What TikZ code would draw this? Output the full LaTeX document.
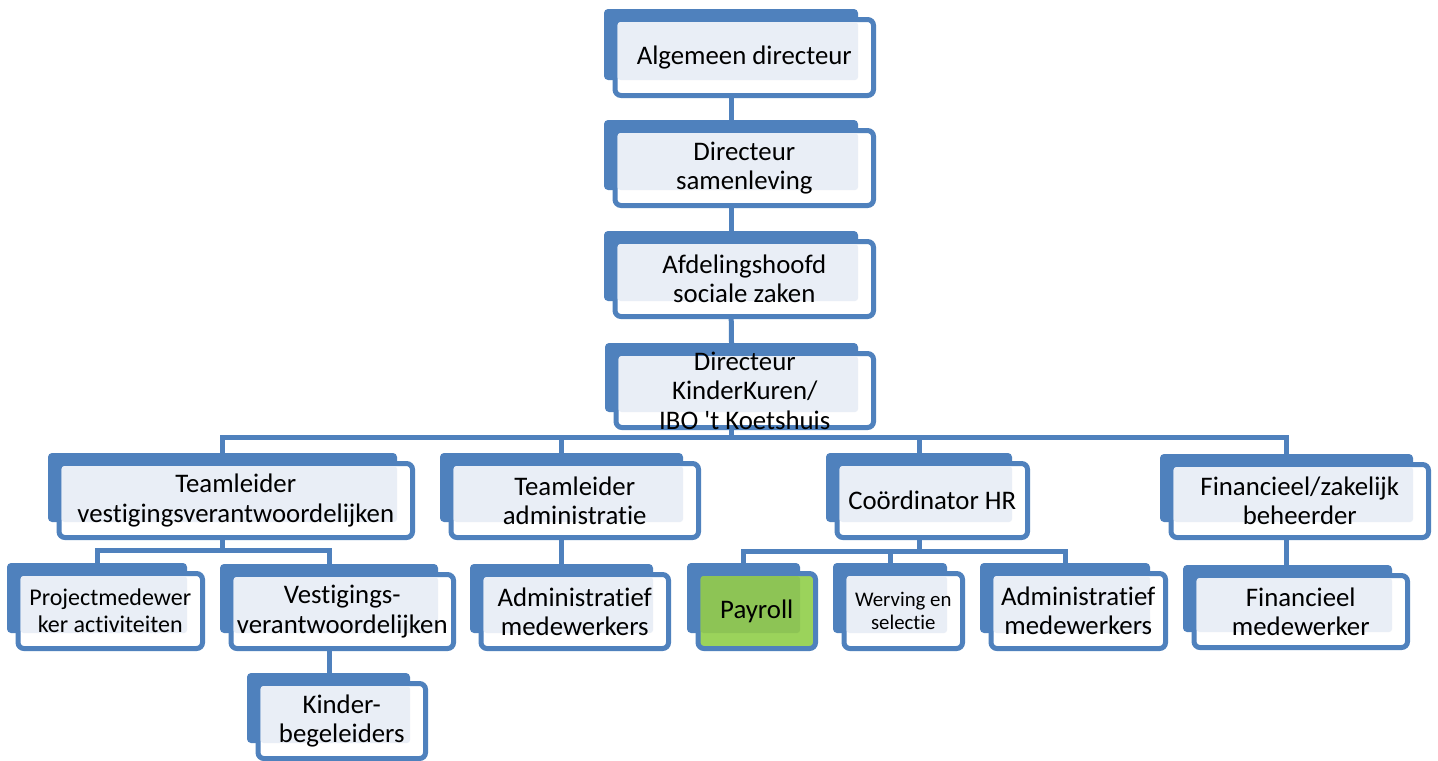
\documentclass[tikz,border=0pt]{standalone}
\usepackage{fontspec}
\setmainfont{Carlito}[Ligatures={NoCommon}]
\usetikzlibrary{backgrounds}

\definecolor{boxblue}{RGB}{79,129,189}
\definecolor{boxlight}{RGB}{233,238,246}
\definecolor{payfront}{RGB}{155,211,91}
\definecolor{paylight}{RGB}{141,196,85}

\tikzset{
  front colour/.store in=\frontcol, front colour=white,
  light colour/.store in=\lightcol, light colour=boxlight,
  backbox/.style={fill=boxblue, rounded corners=2pt, inner sep=0pt, outer sep=0pt, anchor=north west},
  frontbox/.style={draw=boxblue, fill=\frontcol, line width=2.5pt, rounded corners=3pt, inner sep=0pt, outer sep=0pt, anchor=north west},
  boxtext/.style={align=center, inner sep=0pt, text=black},
  link/.style={draw=boxblue, line width=2.5pt, line cap=rect}
}

% box: [options]{name}{x0}{y0}{x1}{y1}{text}, back rectangle in pixels
\newcommand{\orgbox}[7][]{%
  \begin{scope}[#1]
    \node[backbox, minimum width={(#5-#3)*0.5pt}, minimum height={(#6-#4)*0.5pt}] (#2) at (#3,#4) {};
    \node[frontbox, minimum width={(#5-#3+4.5)*0.5pt}, minimum height={(#6-#4+5)*0.5pt}] (#2-f) at (#3+11,#4+10.5) {};
    \fill[\lightcol, rounded corners=1.5pt] ([shift={(1.25pt,-1.25pt)}]#2-f.north west) rectangle (#2.south east);
    \node[boxtext] (#2-t) at (#2-f.center) {#7};
  \end{scope}}

\begin{document}
\begin{tikzpicture}[x=0.5pt, y=-0.5pt, font=\fontsize{13.4}{14.7}\selectfont]
\useasboundingbox (0,0) rectangle (1438,760);

% top chain
\orgbox{alg}{604}{9}{858}{80}{Algemeen directeur}
\orgbox{sam}{604}{120}{858}{190}{Directeur\\samenleving}
\orgbox{afd}{604}{231}{858}{301}{Afdelingshoofd\\sociale zaken}
\orgbox{kk}{605}{343}{858}{412}{Directeur\\KinderKuren/\\IBO \textquotesingle t Koetshuis}

% second row
\orgbox{tlv}{48}{453}{397}{522}{Teamleider\\vestigingsverantwoordelijken}
\orgbox{tla}{440}{453}{683}{522}{Teamleider\\administratie}
\orgbox{hr}{826}{453}{1012}{522}{Coördinator HR}
\orgbox{fin}{1160}{454}{1413}{522}{Financieel/zakelijk\\beheerder}

% third row
\orgbox[font=\fontsize{12}{13.5}\selectfont]{pm}{7}{563}{187}{633}{Projectmedewer\\ker activiteiten}
\orgbox{vv}{220}{564}{438}{633}{Vestigings-\\verantwoordelijken}
\orgbox{adm1}{470}{564}{653}{633}{Administratief\\medewerkers}
\orgbox[front colour=payfront, light colour=paylight]{pay}{687}{563}{800}{633}{Payroll}
\orgbox[font=\fontsize{10.4}{11.6}\selectfont]{ws}{833}{563}{947}{633}{Werving en\\selectie}
\orgbox{adm2}{980}{563}{1150}{633}{Administratief\\medewerkers}
\orgbox{fm}{1183}{565}{1392}{632}{Financieel\\medewerker}
\orgbox{kb}{247}{673}{410}{743}{Kinder-\\begeleiders}

\begin{pgfonlayer}{background}
\fill[white] (0,0) rectangle (1438,760);
\draw[link] (alg.south) -- (sam.north);
\draw[link] (sam.south) -- (afd.north);
\draw[link] (afd.south) -- (kk.north);
\coordinate (bus) at (0,437);
\draw[link] (kk.south) -- (kk.south |- bus);
\draw[link] (tlv.north |- bus) -- (fin.north |- bus);
\foreach \n in {tlv,tla,hr,fin}
  \draw[link] (\n.north |- bus) -- (\n.north);
\coordinate (sub1) at (0,550);
\draw[link] (tlv.south) -- (tlv.south |- sub1);
\draw[link] (pm.north |- sub1) -- (vv.north |- sub1);
\foreach \n in {pm,vv}
  \draw[link] (\n.north |- sub1) -- (\n.north);
\coordinate (sub2) at (0,551);
\draw[link] (hr.south) -- (hr.south |- sub2);
\draw[link] (pay.north |- sub2) -- (adm2.north |- sub2);
\foreach \n in {pay,ws,adm2}
  \draw[link] (\n.north |- sub2) -- (\n.north);
\draw[link] (tla.south) -- (tla.south |- adm1.north);
\draw[link] (fin.south) -- (fin.south |- fm.north);
\draw[link] (vv.south) -- (vv.south |- kb.north);
\end{pgfonlayer}
\end{tikzpicture}
\end{document}
